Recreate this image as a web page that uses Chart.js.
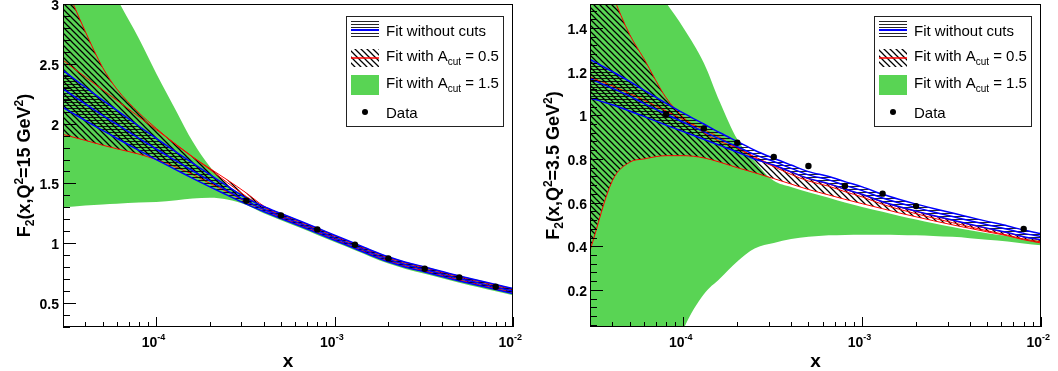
<!DOCTYPE html>
<html>
<head>
<meta charset="utf-8">
<script src="https://cdn.jsdelivr.net/npm/chart.js@4.4.0/dist/chart.umd.min.js"></script>
<style>
  html, body { margin: 0; padding: 0; background: #fff; }
  #wrap { position: relative; width: 1058px; height: 371px; overflow: hidden; }
  canvas { position: absolute; top: 0; }
  #left { left: 0; }
  #right { left: 529px; }
</style>
</head>
<body>
<div id="wrap">
  <canvas id="left" width="529" height="371"></canvas>
  <canvas id="right" width="529" height="371"></canvas>
</div>
<script>
const xGrid = [3e-5, 4e-5, 5e-5, 6e-5, 8e-5, 1e-4, 1.3e-4, 1.6e-4, 2e-4, 2.5e-4, 3.2e-4, 4e-4, 5e-4,
  6.5e-4, 8e-4, 1e-3, 1.3e-3, 1.6e-3, 2e-3, 2.5e-3, 3.2e-3, 4e-3, 5e-3, 6.5e-3, 8e-3, 1e-2];

// --- left panel, Q2 = 15 GeV2
const leftBlueHi  = [2.445, 2.304, 2.197, 2.112, 1.978, 1.877, 1.76, 1.669, 1.573, 1.478, 1.377, 1.307, 1.249,
  1.182, 1.127, 1.067, 0.998, 0.942, 0.887, 0.842, 0.802, 0.764, 0.727, 0.687, 0.655, 0.622];
const leftBlueMid = [2.29, 2.165, 2.07, 1.995, 1.877, 1.788, 1.686, 1.606, 1.522, 1.44, 1.352, 1.285, 1.227,
  1.16, 1.105, 1.045, 0.976, 0.92, 0.865, 0.82, 0.78, 0.742, 0.705, 0.665, 0.633, 0.600];
const leftBlueLo  = [2.135, 2.026, 1.943, 1.878, 1.776, 1.699, 1.612, 1.543, 1.471, 1.402, 1.327, 1.265, 1.207,
  1.14, 1.085, 1.025, 0.956, 0.90, 0.845, 0.80, 0.76, 0.722, 0.685, 0.645, 0.613, 0.58];
const leftRedHi   = [3.2, 2.77, 2.47, 2.29, 2.09, 1.96, 1.82, 1.72, 1.625, 1.53, 1.42, 1.312, 1.244,
  1.175, 1.12, 1.06, 0.991, 0.935, 0.88, 0.835, 0.795, 0.757, 0.72, 0.68, 0.648, 0.615];
const leftRedMid  = [2.53, 2.39, 2.283, 2.196, 2.057, 1.95, 1.823, 1.723, 1.616, 1.508, 1.39, 1.30, 1.232,
  1.163, 1.108, 1.048, 0.979, 0.923, 0.868, 0.823, 0.783, 0.745, 0.708, 0.668, 0.636, 0.603];
const leftRedLo   = [1.91, 1.86, 1.82, 1.79, 1.745, 1.70, 1.635, 1.575, 1.50, 1.43, 1.345, 1.28, 1.217,
  1.148, 1.093, 1.033, 0.964, 0.908, 0.853, 0.808, 0.768, 0.73, 0.693, 0.653, 0.621, 0.588];
const leftGreenHi = [3.9, 3.55, 3.28, 3.05, 2.71, 2.42, 2.10, 1.85, 1.64, 1.49, 1.39, 1.31, 1.252,
  1.185, 1.13, 1.07, 1.001, 0.945, 0.89, 0.845, 0.805, 0.767, 0.73, 0.69, 0.658, 0.625];
const leftGreenLo = [1.30, 1.315, 1.325, 1.33, 1.34, 1.345, 1.36, 1.375, 1.38, 1.365, 1.32, 1.25, 1.192,
  1.125, 1.07, 1.01, 0.941, 0.885, 0.83, 0.785, 0.745, 0.707, 0.67, 0.63, 0.598, 0.565];
const leftDataX = [3.2e-4, 5e-4, 8e-4, 1.3e-3, 2e-3, 3.2e-3, 5e-3, 8e-3];
const leftDataY = [1.355, 1.233, 1.116, 0.987, 0.874, 0.787, 0.715, 0.636];
const leftYTicks = [0.5, 1, 1.5, 2, 2.5, 3];

// --- right panel, Q2 = 3.5 GeV2
const rightBlueHi  = [1.256, 1.20, 1.155, 1.115, 1.055, 1.01, 0.96, 0.92, 0.88, 0.84, 0.803, 0.772, 0.742,
  0.72, 0.696, 0.672, 0.638, 0.615, 0.593, 0.573, 0.552, 0.533, 0.514, 0.493, 0.474, 0.458];
const rightBlueMid = [1.168, 1.124, 1.088, 1.055, 1.005, 0.968, 0.925, 0.891, 0.856, 0.82, 0.788, 0.757, 0.727,
  0.704, 0.679, 0.655, 0.621, 0.599, 0.577, 0.557, 0.536, 0.517, 0.499, 0.478, 0.459, 0.444];
const rightBlueLo  = [1.08, 1.048, 1.02, 0.995, 0.955, 0.925, 0.89, 0.862, 0.832, 0.80, 0.772, 0.741, 0.711,
  0.687, 0.662, 0.638, 0.604, 0.582, 0.561, 0.541, 0.52, 0.501, 0.483, 0.463, 0.444, 0.43];
const rightRedHi   = [1.78, 1.55, 1.37, 1.26, 1.08, 0.99, 0.92, 0.88, 0.85, 0.81, 0.77, 0.739, 0.709,
  0.685, 0.66, 0.636, 0.602, 0.58, 0.559, 0.539, 0.518, 0.499, 0.481, 0.461, 0.442, 0.428];
const rightRedMid  = [1.175, 1.135, 1.10, 1.07, 1.02, 0.98, 0.935, 0.898, 0.85, 0.805, 0.765, 0.729, 0.699,
  0.675, 0.65, 0.626, 0.592, 0.57, 0.549, 0.529, 0.508, 0.489, 0.471, 0.451, 0.433, 0.42];
const rightRedLo   = [0.38, 0.70, 0.785, 0.80, 0.815, 0.815, 0.805, 0.785, 0.76, 0.737, 0.71, 0.685, 0.66,
  0.635, 0.615, 0.595, 0.572, 0.553, 0.535, 0.517, 0.498, 0.482, 0.466, 0.448, 0.43, 0.415];
const rightGreenHi = [2.2, 1.95, 1.76, 1.64, 1.515, 1.40, 1.24, 1.06, 0.89, 0.79, 0.70, 0.672, 0.648,
  0.622, 0.60, 0.58, 0.558, 0.54, 0.522, 0.505, 0.488, 0.473, 0.46, 0.447, 0.436, 0.425];
const rightGreenLo = [-0.3, -0.3, -0.3, -0.3, -0.2, 0.02, 0.18, 0.252, 0.33, 0.39, 0.415, 0.433, 0.443,
  0.45, 0.452, 0.453, 0.453, 0.452, 0.45, 0.447, 0.443, 0.437, 0.43, 0.422, 0.413, 0.405];
const rightDataX = [8e-5, 1.3e-4, 2e-4, 3.2e-4, 5e-4, 8e-4, 1.3e-3, 2e-3, 8e-3];
const rightDataY = [1.005, 0.94, 0.874, 0.809, 0.768, 0.676, 0.641, 0.584, 0.479];
const rightYTicks = [0.2, 0.4, 0.6, 0.8, 1, 1.2, 1.4];

const xDecades = [1e-4, 1e-3, 1e-2];
const xDecadeExp = ['-4', '-3', '-2'];
const legendRows = ['Fit without cuts', 'Fit with A|cut| = 0.5', 'Fit with A|cut| = 1.5', 'Data'];

const FONT = '"Liberation Sans", Arial, Helvetica, sans-serif';
const GREEN = '#59d454';

// hatch patterns like ROOT fill styles
function diagHatch() {
  const c = document.createElement('canvas');
  c.width = c.height = 6;
  const g = c.getContext('2d');
  g.strokeStyle = '#000';
  g.lineWidth = 1.25;
  g.beginPath();
  g.moveTo(-1, -1); g.lineTo(7, 7);
  g.moveTo(-1, 5); g.lineTo(1, 7);
  g.moveTo(5, -1); g.lineTo(7, 1);
  g.stroke();
  return g.createPattern(c, 'repeat');
}
function horizHatch() {
  const c = document.createElement('canvas');
  c.width = 4; c.height = 3;
  const g = c.getContext('2d');
  g.fillStyle = 'rgba(0,0,0,0.85)';
  g.fillRect(0, 0, 4, 1);
  return g.createPattern(c, 'repeat');
}
const HATCH_DIAG = diagHatch();
const HATCH_HORIZ = horizHatch();

// text with sub/superscripts; parts: [text, size, dy]
function richWidth(ctx, parts, weight) {
  let w = 0;
  parts.forEach(([t, s]) => { ctx.font = `${weight} ${s}px ${FONT}`; w += ctx.measureText(t).width; });
  return w;
}
function drawRich(ctx, parts, x, y, weight) {
  parts.forEach(([t, s, dy]) => {
    ctx.font = `${weight} ${s}px ${FONT}`;
    ctx.fillText(t, x, y + (dy || 0));
    x += ctx.measureText(t).width;
  });
}

function rootStyle(P) {
  return {
    id: 'rootStyle',
    afterDraw(chart) {
      const { ctx, chartArea: a, scales: { x, y } } = chart;
      ctx.save();
      ctx.fillStyle = '#000';
      ctx.strokeStyle = '#000';
      ctx.lineWidth = 1;

      // frame
      ctx.strokeRect(a.left + 0.5, a.top + 0.5, a.right - a.left - 1, a.bottom - a.top - 1);

      // y ticks (inside), minor + major
      ctx.beginPath();
      for (let v = P.yMinorStart; v <= y.max + 1e-9; v += P.yMinor) {
        const py = Math.round(y.getPixelForValue(v)) + 0.5;
        const major = P.yTicks.some(t => Math.abs(t - v) < 1e-6);
        ctx.moveTo(a.left, py);
        ctx.lineTo(a.left + (major ? 13 : 7), py);
      }
      // x ticks (inside)
      for (let e = -5; e <= -2; e++) {
        for (let m = 1; m <= 9; m++) {
          const v = m * Math.pow(10, e);
          if (v < x.min * 0.999 || v > x.max * 1.001) continue;
          const px = Math.round(x.getPixelForValue(v)) + 0.5;
          ctx.moveTo(px, a.bottom);
          ctx.lineTo(px, a.bottom - (m === 1 ? 10 : 5));
        }
      }
      ctx.stroke();

      // y tick labels
      ctx.textAlign = 'right';
      ctx.textBaseline = 'alphabetic';
      ctx.font = `bold 14px ${FONT}`;
      P.yTicks.forEach(t => {
        ctx.fillText(String(t), a.left - P.labelGap, y.getPixelForValue(t) + 6);
      });

      // x tick labels 10^n
      xDecades.forEach((d, i) => {
        const px = x.getPixelForValue(d);
        ctx.textAlign = 'right';
        ctx.font = `bold 14px ${FONT}`;
        ctx.fillText('10', px + 1, 347);
        ctx.textAlign = 'left';
        ctx.font = `bold 9px ${FONT}`;
        ctx.fillText(xDecadeExp[i], px + 1, 340);
      });

      // axis titles
      ctx.textAlign = 'center';
      ctx.font = `bold 19px ${FONT}`;
      ctx.fillText('x', (a.left + a.right) / 2, 367);

      ctx.textAlign = 'left';
      const title = [['F', 18], ['2', 12, 4], ['(x,Q', 18], ['2', 12, -7],
        [`=${P.q2} GeV`, 18], ['2', 12, -7], [')', 18]];
      const tw = richWidth(ctx, title, 'bold');
      ctx.save();
      ctx.translate(30, (a.top + a.bottom) / 2);
      ctx.rotate(-Math.PI / 2);
      drawRich(ctx, title, -tw / 2, 0, 'bold');
      ctx.restore();

      // legend box
      const bw = 157, bh = 110;
      const bx = a.right - 10 - bw, by = 16;
      ctx.fillStyle = '#fff';
      ctx.fillRect(bx, by, bw, bh);
      ctx.strokeStyle = '#222';
      ctx.strokeRect(bx + 0.5, by + 0.5, bw, bh);

      const sx = bx + 5, sw = 28;
      // row 1: horizontal hatch + blue line
      ctx.fillStyle = HATCH_HORIZ;
      ctx.fillRect(sx, by + 5, sw, 17);
      ctx.strokeStyle = '#0000ff';
      ctx.lineWidth = 2;
      ctx.beginPath(); ctx.moveTo(sx, by + 14); ctx.lineTo(sx + sw, by + 14); ctx.stroke();
      // row 2: diagonal hatch + red line
      ctx.fillStyle = HATCH_DIAG;
      ctx.fillRect(sx, by + 33, sw, 18);
      ctx.strokeStyle = '#ff0000';
      ctx.lineWidth = 1.5;
      ctx.beginPath(); ctx.moveTo(sx, by + 42); ctx.lineTo(sx + sw, by + 42); ctx.stroke();
      // row 3: green box
      ctx.fillStyle = GREEN;
      ctx.fillRect(sx, by + 59, sw, 20);
      // row 4: dot
      ctx.fillStyle = '#000';
      ctx.beginPath(); ctx.arc(sx + 14, by + 96, 3, 0, Math.PI * 2); ctx.fill();

      const base = [20, 45, 72, 102];
      legendRows.forEach((r, i) => {
        const seg = r.split('|');
        const parts = seg.length === 1 ? [[r, 15]] : [[seg[0], 15], [seg[1], 10, 4], [seg[2], 15]];
        drawRich(ctx, parts, bx + 40, by + base[i], 'normal');
      });
      ctx.restore();
    }
  };
}

function band(label, ys, color, extra) {
  return Object.assign({
    type: 'line', label,
    data: xGrid.map((x, i) => ({ x, y: ys[i] })),
    borderColor: color, borderWidth: 1, pointRadius: 0,
    fill: false, clip: 0, cubicInterpolationMode: 'monotone'
  }, extra);
}

function makeChart(id, P) {
  const datasets = [
    { type: 'line', label: 'Data', data: P.dataX.map((x, i) => ({ x, y: P.dataY[i] })),
      showLine: false, pointRadius: 3.2, pointBackgroundColor: '#000', pointBorderColor: '#000',
      pointBorderWidth: 0, clip: 0, order: 0 },
    band('blue mid', P.blueMid, '#0000ff', { order: 1, borderWidth: 1.5 }),
    band('blue lo', P.blueLo, '#0000ff', { order: 1, borderWidth: 1.5 }),
    band('Fit without cuts', P.blueHi, '#0000ff', { order: 1, borderWidth: 1.5, fill: 2, backgroundColor: HATCH_HORIZ }),
    band('red mid', P.redMid, '#ff0000', { order: 2 }),
    band('red lo', P.redLo, '#ff0000', { order: 2 }),
    band('Fit with Acut = 0.5', P.redHi, '#ff0000', { order: 2, fill: 5, backgroundColor: HATCH_DIAG }),
    band('green lo', P.greenLo, GREEN, { order: 3, borderWidth: 0 }),
    band('Fit with Acut = 1.5', P.greenHi, GREEN, { order: 3, borderWidth: 0, fill: 7, backgroundColor: GREEN })
  ];
  return new Chart(document.getElementById(id), {
    type: 'line',
    data: { datasets },
    options: {
      responsive: false,
      animation: false,
      events: [],
      layout: { padding: { top: 4, right: P.padRight, left: 0, bottom: 0 } },
      plugins: { legend: { display: false }, tooltip: { enabled: false } },
      scales: {
        x: {
          type: 'logarithmic', min: 3e-5, max: 1e-2, bounds: 'data',
          ticks: { display: false }, grid: { display: false }, border: { display: false },
          afterFit: s => { s.height = 44; }
        },
        y: {
          type: 'linear', min: P.yMin, max: P.yMax, bounds: 'data',
          ticks: { display: false }, grid: { display: false }, border: { display: false },
          afterFit: s => { s.width = P.axisLeft; }
        }
      }
    },
    plugins: [rootStyle(P)]
  });
}

makeChart('left', {
  yMin: 0.3, yMax: 3.0, yTicks: leftYTicks, yMinor: 0.1, yMinorStart: 0.3,
  axisLeft: 63, padRight: 16, labelGap: 4, q2: '15',
  blueHi: leftBlueHi, blueMid: leftBlueMid, blueLo: leftBlueLo,
  redHi: leftRedHi, redMid: leftRedMid, redLo: leftRedLo,
  greenHi: leftGreenHi, greenLo: leftGreenLo,
  dataX: leftDataX, dataY: leftDataY
});

makeChart('right', {
  yMin: 0.03, yMax: 1.51, yTicks: rightYTicks, yMinor: 0.04, yMinorStart: 0.04,
  axisLeft: 61, padRight: 17, labelGap: 3, q2: '3.5',
  blueHi: rightBlueHi, blueMid: rightBlueMid, blueLo: rightBlueLo,
  redHi: rightRedHi, redMid: rightRedMid, redLo: rightRedLo,
  greenHi: rightGreenHi, greenLo: rightGreenLo,
  dataX: rightDataX, dataY: rightDataY
});
</script>
</body>
</html>
